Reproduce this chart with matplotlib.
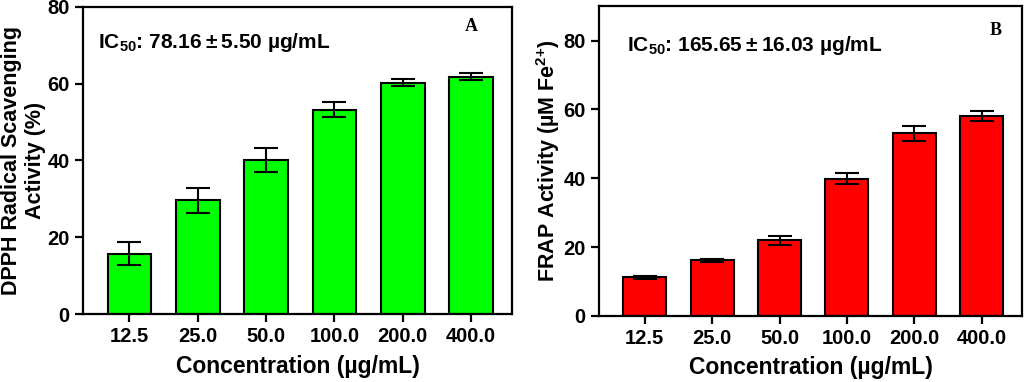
import matplotlib
matplotlib.use("Agg")
import matplotlib.pyplot as plt
import numpy as np

plt.rcParams["font.family"] = ["Liberation Sans", "DejaVu Sans"]
plt.rcParams["font.weight"] = "bold"
plt.rcParams["mathtext.fontset"] = "custom"
plt.rcParams["mathtext.rm"] = "Liberation Sans:bold"
plt.rcParams["mathtext.it"] = "Liberation Sans:bold"
plt.rcParams["mathtext.bf"] = "Liberation Sans:bold"

conc_labels = ["12.5", "25.0", "50.0", "100.0", "200.0", "400.0"]

dpph_mean = [15.7, 29.6, 40.1, 53.2, 60.3, 61.8]
dpph_err = [3.0, 3.3, 3.1, 2.0, 0.8, 0.9]

frap_mean = [11.2, 16.1, 22.0, 39.9, 53.0, 58.0]
frap_err = [0.4, 0.4, 1.3, 1.7, 2.2, 1.4]

ic50_dpph = "IC$_{50}$: 78.16\u2009±\u20095.50 µg/mL"
ic50_frap = "IC$_{50}$: 165.65\u2009±\u200916.03 µg/mL"


def panel(ax, means, errs, color, ymax, ylabel, ic50_text, ic50_xy, letter, letter_xy):
    x = np.arange(len(conc_labels))
    ax.bar(x, means, width=0.64, color=color, edgecolor="black", linewidth=1.5, zorder=2)
    ax.errorbar(x, means, yerr=errs, fmt="none", ecolor="black", elinewidth=1.5,
                capsize=8.5, capthick=1.5, zorder=3)
    ax.set_xlim(-0.68, len(conc_labels) - 1 + 0.6)
    ax.set_ylim(0, ymax)
    ax.set_yticks([0, 20, 40, 60, 80])
    ax.set_xticks(x)
    ax.set_xticklabels(conc_labels)
    for s in ax.spines.values():
        s.set_linewidth(1.6)
    ax.tick_params(axis="both", direction="out", length=6, width=1.6, labelsize=14.5)
    ax.set_xlabel("Concentration (µg/mL)", fontsize=16.5, fontweight="bold", labelpad=6)
    ax.set_ylabel(ylabel, fontsize=15.5, fontweight="bold", labelpad=1)
    ax.text(ic50_xy[0], ic50_xy[1], ic50_text, transform=ax.transAxes, fontsize=15,
            fontweight="bold", va="baseline", ha="left")
    ax.text(letter_xy[0], letter_xy[1], letter, transform=ax.transAxes, fontsize=13,
            fontweight="bold", family="Liberation Serif", ha="center", va="center")


fig = plt.figure(figsize=(10.24, 3.82), dpi=100)
ax1 = fig.add_axes([0.081, 0.178, 0.419, 0.804])
ax2 = fig.add_axes([0.585, 0.173, 0.413, 0.811])

panel(ax1, dpph_mean, dpph_err, "#00ff00", 80,
      "DPPH Radical Scavenging\nActivity (%)", ic50_dpph, (0.035, 0.865),
      "A", (0.905, 0.935))
panel(ax2, frap_mean, frap_err, "#ff0000", 90,
      r"FRAP Activity (µM Fe$^{2{+}}$)", ic50_frap, (0.066, 0.855),
      "B", (0.937, 0.92))

fig.savefig("out.png", dpi=100)
